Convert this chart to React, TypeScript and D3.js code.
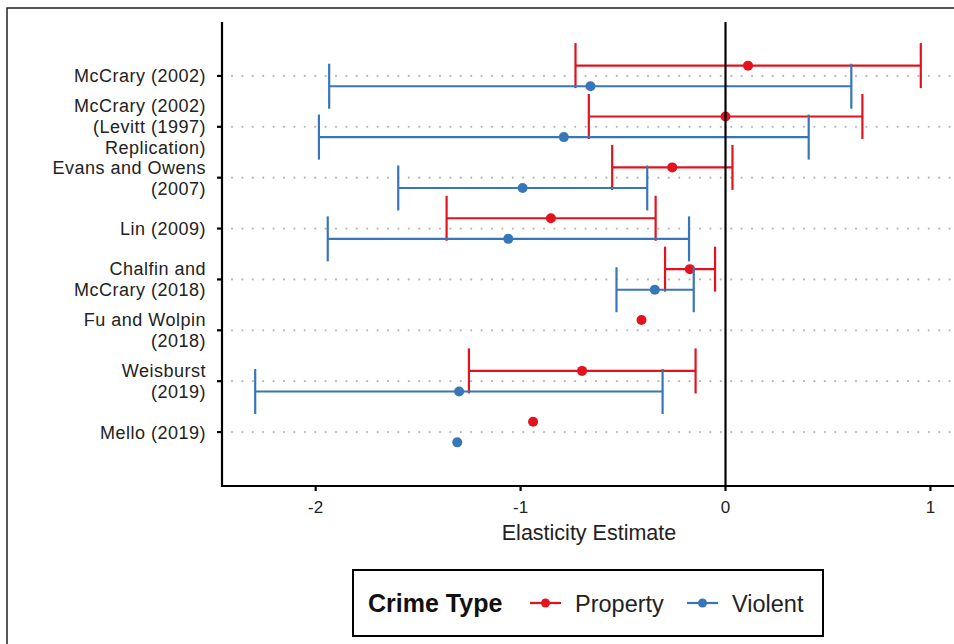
import React, { useEffect, useRef } from "react";
import * as d3 from "d3";

const studies = [
  "McCrary (2002)",
  "McCrary (2002)\n(Levitt (1997)\nReplication)",
  "Evans and Owens\n(2007)",
  "Lin (2009)",
  "Chalfin and\nMcCrary (2018)",
  "Fu and Wolpin\n(2018)",
  "Weisburst\n(2019)",
  "Mello (2019)",
];

const propertyEst = [0.11, 0.0, -0.26, -0.852, -0.174, -0.41, -0.7, -0.939];
const propertyLo = [-0.732, -0.667, -0.553, -1.361, -0.295, null, -1.252, null];
const propertyHi = [0.953, 0.668, 0.034, -0.341, -0.051, null, -0.146, null];

const violentEst = [-0.659, -0.789, -0.99, -1.06, -0.345, null, -1.3, -1.309];
const violentLo = [-1.934, -1.984, -1.597, -1.941, -0.532, null, -2.295, null];
const violentHi = [0.614, 0.406, -0.382, -0.178, -0.155, null, -0.307, null];

const xTicks = [-2, -1, 0, 1];
const crimeTypes = ["Property", "Violent"];

export default function App() {
  const ref = useRef<SVGSVGElement>(null);

  useEffect(() => {
    draw();
  }, []);

  const draw = () => {
    const svg = d3.select(ref.current);
    svg.selectAll("*").remove();

    const font = "'Liberation Sans', Arial, sans-serif";
    const panel = { left: 222, right: 954, top: 22, bottom: 486 };
    const colors: Record<string, string> = { Property: "#E3131E", Violent: "#3776B8" };
    const dodge: Record<string, number> = { Property: -10.3, Violent: 10.3 };
    const capHalf = 22.5;

    // outer frame
    svg
      .append("rect")
      .attr("x", 7)
      .attr("y", 8)
      .attr("width", 970)
      .attr("height", 660)
      .attr("fill", "white")
      .attr("stroke", "#222")
      .attr("stroke-width", 1.5);

    const x = d3.scaleLinear().domain([-2.457, 1.115]).range([panel.left, panel.right]);
    const y = d3.scalePoint().domain(studies).range([panel.top, panel.bottom]).padding(1.06);

    // dotted grid
    svg
      .append("g")
      .selectAll("line")
      .data(studies)
      .enter()
      .append("line")
      .attr("x1", panel.left + 10)
      .attr("x2", panel.right)
      .attr("y1", (d) => y(d)!)
      .attr("y2", (d) => y(d)!)
      .attr("stroke", "#b8b8b8")
      .attr("stroke-width", 2.2)
      .attr("stroke-linecap", "round")
      .attr("stroke-dasharray", "0 10.4");

    const series = [
      { type: "Property", est: propertyEst, lo: propertyLo, hi: propertyHi },
      { type: "Violent", est: violentEst, lo: violentLo, hi: violentHi },
    ];

    series.forEach((s) => {
      const rows = studies.map((st, i) => ({ st, est: s.est[i], lo: s.lo[i], hi: s.hi[i] }));
      const g = svg.append("g").attr("stroke", colors[s.type]).attr("fill", colors[s.type]);
      const bars = rows.filter((r) => r.lo != null && r.hi != null);
      const cy = (r: any) => y(r.st)! + dodge[s.type];

      g.selectAll(".bar")
        .data(bars)
        .enter()
        .append("line")
        .attr("x1", (r) => x(r.lo!))
        .attr("x2", (r) => x(r.hi!))
        .attr("y1", cy)
        .attr("y2", cy)
        .attr("stroke-width", 2.2);

      ["lo", "hi"].forEach((k) => {
        g.selectAll(".cap" + k)
          .data(bars)
          .enter()
          .append("line")
          .attr("x1", (r: any) => x(r[k]))
          .attr("x2", (r: any) => x(r[k]))
          .attr("y1", (r) => cy(r) - capHalf)
          .attr("y2", (r) => cy(r) + capHalf)
          .attr("stroke-width", 2.2);
      });

      g.selectAll("circle")
        .data(rows.filter((r) => r.est != null))
        .enter()
        .append("circle")
        .attr("cx", (r) => x(r.est!))
        .attr("cy", cy)
        .attr("r", 5)
        .attr("stroke", "none");
    });

    // zero line
    svg
      .append("line")
      .attr("x1", x(0))
      .attr("x2", x(0))
      .attr("y1", panel.top)
      .attr("y2", panel.bottom)
      .attr("stroke", "black")
      .attr("stroke-width", 2.2);

    // axes
    svg
      .append("path")
      .attr("d", `M${panel.left},${panel.top}V${panel.bottom}H${panel.right}`)
      .attr("fill", "none")
      .attr("stroke", "black")
      .attr("stroke-width", 2.2);

    const yAxis = svg.append("g");
    studies.forEach((st) => {
      const yy = y(st)!;
      yAxis
        .append("line")
        .attr("x1", panel.left - 5)
        .attr("x2", panel.left)
        .attr("y1", yy)
        .attr("y2", yy)
        .attr("stroke", "black")
        .attr("stroke-width", 2.2);
      const lines = st.split("\n");
      const lh = 21;
      const t = yAxis
        .append("text")
        .attr("text-anchor", "end")
        .attr("font-family", font)
        .attr("font-size", 18)
        .attr("letter-spacing", 0.5)
        .attr("fill", "#222");
      lines.forEach((ln, i) => {
        t.append("tspan")
          .attr("x", 206)
          .attr("y", yy + 6.5 + (i - (lines.length - 1) / 2) * lh)
          .text(ln);
      });
    });

    const xAxis = svg.append("g");
    xTicks.forEach((v) => {
      xAxis
        .append("line")
        .attr("x1", x(v))
        .attr("x2", x(v))
        .attr("y1", panel.bottom)
        .attr("y2", panel.bottom + 5)
        .attr("stroke", "black")
        .attr("stroke-width", 2.2);
      xAxis
        .append("text")
        .attr("x", x(v))
        .attr("y", 513)
        .attr("text-anchor", "middle")
        .attr("font-family", font)
        .attr("font-size", 17)
        .attr("fill", "#222")
        .text(v);
    });

    svg
      .append("text")
      .attr("x", 589)
      .attr("y", 539.5)
      .attr("text-anchor", "middle")
      .attr("font-family", font)
      .attr("font-size", 21.5)
      .attr("fill", "#222")
      .text("Elasticity Estimate");

    // legend
    const leg = svg.append("g");
    leg
      .append("rect")
      .attr("x", 353)
      .attr("y", 570)
      .attr("width", 470)
      .attr("height", 66)
      .attr("fill", "white")
      .attr("stroke", "black")
      .attr("stroke-width", 2);
    leg
      .append("text")
      .attr("x", 368)
      .attr("y", 612)
      .attr("font-family", font)
      .attr("font-size", 25)
      .attr("font-weight", "bold")
      .attr("fill", "#111")
      .text("Crime Type");
    const keyX: Record<string, number> = { Property: 530, Violent: 687 };
    crimeTypes.forEach((c) => {
      const kx = keyX[c];
      leg
        .append("line")
        .attr("x1", kx)
        .attr("x2", kx + 31)
        .attr("y1", 603)
        .attr("y2", 603)
        .attr("stroke", colors[c])
        .attr("stroke-width", 2.2);
      leg
        .append("circle")
        .attr("cx", kx + 15.5)
        .attr("cy", 603)
        .attr("r", 4.5)
        .attr("fill", colors[c]);
      leg
        .append("text")
        .attr("x", kx + 45)
        .attr("y", 611.5)
        .attr("font-family", font)
        .attr("font-size", 23.5)
        .attr("fill", "#222")
        .text(c);
    });
  };

  return (
    <svg
      ref={ref}
      width={954}
      height={644}
      style={{ position: "absolute", left: 0, top: 0, background: "white" }}
    />
  );
}
